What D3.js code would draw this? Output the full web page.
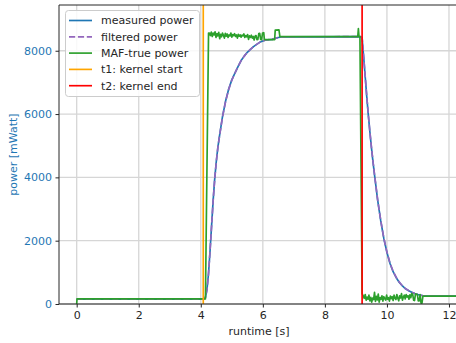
<!DOCTYPE html>
<html><head><meta charset="utf-8">
<script src="https://cdn.jsdelivr.net/npm/d3@7"></script>
<style>
html,body{margin:0;padding:0;background:#fff;}
svg{display:block;font-family:"DejaVu Sans",sans-serif;}
</style></head>
<body>
<svg id="c" width="456" height="343"></svg>
<script>
// ---- data ----
const measuredT = [0, 4.07, 4.10, 4.15, 4.20, 4.25, 4.30, 4.35, 4.40, 4.45, 4.50, 4.55, 4.60, 4.70, 4.80, 4.90, 5.00, 5.10, 5.20, 5.30, 5.40, 5.50, 5.60, 5.70, 5.80, 5.90, 6.00, 6.10, 6.30, 6.50, 6.60, 9.15, 9.20, 9.25, 9.30, 9.35, 9.40, 9.45, 9.50, 9.55, 9.60, 9.70, 9.80, 9.90, 10.00, 10.10, 10.20, 10.30, 10.40, 10.50, 10.60, 10.70, 10.80, 10.90, 11.00, 11.10, 11.20, 12.50];
const measuredP = [150, 150, 160, 210, 460, 970, 1700, 2500, 3290, 3970, 4500, 4940, 5290, 5920, 6410, 6790, 7080, 7290, 7500, 7690, 7830, 7950, 8045, 8130, 8200, 8265, 8310, 8340, 8360, 8420, 8440, 8445, 8400, 7810, 7180, 6550, 5970, 5440, 4950, 4500, 4080, 3290, 2630, 2070, 1630, 1280, 1020, 830, 680, 570, 480, 420, 370, 330, 295, 275, 253, 253];
const filteredT = [0, 4.07, 4.10, 4.15, 4.20, 4.25, 4.30, 4.35, 4.40, 4.45, 4.50, 4.55, 4.60, 4.70, 4.80, 4.90, 5.00, 5.10, 5.20, 5.30, 5.40, 5.50, 5.60, 5.70, 5.80, 5.90, 6.00, 6.10, 6.30, 6.50, 6.60, 9.15, 9.20, 9.25, 9.30, 9.35, 9.40, 9.45, 9.50, 9.55, 9.60, 9.70, 9.80, 9.90, 10.00, 10.10, 10.20, 10.30, 10.40, 10.50, 10.60, 10.70, 10.80, 10.90, 11.00, 11.10, 11.20, 12.50];
const filteredP = [150, 150, 158, 205, 450, 960, 1690, 2490, 3280, 3960, 4490, 4930, 5280, 5910, 6400, 6780, 7070, 7290, 7500, 7690, 7830, 7950, 8045, 8130, 8200, 8265, 8310, 8340, 8360, 8420, 8440, 8445, 8410, 7820, 7190, 6560, 5980, 5450, 4960, 4510, 4090, 3300, 2640, 2080, 1640, 1290, 1030, 840, 690, 575, 485, 425, 372, 332, 297, 276, 253, 253];
const mafT = [0, 0.01, 4.15, 4.25, 4.28, 4.31, 4.34, 4.37, 4.40, 4.43, 4.46, 4.49, 4.52, 4.55, 4.58, 4.61, 4.64, 4.67, 4.70, 4.73, 4.76, 4.79, 4.82, 4.85, 4.88, 4.91, 4.94, 4.97, 5.00, 5.03, 5.06, 5.09, 5.12, 5.15, 5.18, 5.21, 5.24, 5.27, 5.30, 5.33, 5.36, 5.39, 5.42, 5.45, 5.48, 5.51, 5.54, 5.57, 5.60, 5.63, 5.66, 5.69, 5.72, 5.75, 5.78, 5.81, 5.84, 5.87, 5.90, 5.93, 5.96, 5.99, 6.03, 6.05, 6.38, 6.40, 6.52, 6.55, 9.06, 9.08, 9.10, 9.13, 9.20, 9.24, 9.27, 9.30, 9.33, 9.36, 9.39, 9.42, 9.45, 9.48, 9.51, 9.54, 9.57, 9.60, 9.63, 9.66, 9.69, 9.72, 9.75, 9.78, 9.81, 9.84, 9.87, 9.90, 9.93, 9.96, 9.99, 10.02, 10.05, 10.08, 10.11, 10.14, 10.17, 10.20, 10.23, 10.26, 10.29, 10.32, 10.35, 10.38, 10.41, 10.44, 10.47, 10.50, 10.53, 10.56, 10.59, 10.62, 10.65, 10.68, 10.71, 10.74, 10.77, 10.80, 10.83, 10.86, 10.89, 10.92, 10.95, 10.98, 11.01, 11.04, 11.07, 11.10, 11.13, 11.16, 12.50];
const mafP = [0, 160, 160, 8560, 8560, 8480, 8590, 8450, 8560, 8500, 8600, 8420, 8540, 8470, 8580, 8380, 8520, 8440, 8560, 8490, 8400, 8550, 8460, 8530, 8420, 8500, 8470, 8560, 8430, 8510, 8480, 8540, 8450, 8500, 8400, 8520, 8460, 8500, 8430, 8490, 8470, 8530, 8420, 8480, 8440, 8510, 8360, 8470, 8420, 8490, 8400, 8450, 8340, 8460, 8480, 8350, 8360, 8540, 8550, 8360, 8350, 8560, 8570, 8350, 8350, 8650, 8660, 8445, 8445, 8700, 8445, 8445, 330, 250, 180, 300, 120, 220, 150, 280, 100, 210, 60, 190, 140, 370, 80, 240, 130, 310, 60, 200, 150, 260, 90, 230, 170, 120, 280, 150, 200, 90, 250, 170, 230, 110, 280, 190, 140, 300, 180, 100, 260, 190, 330, 120, 220, 280, 160, 300, 220, 260, 150, 290, 200, 330, 310, 120, 110, 320, 310, 300, 100, 100, 300, 30, 30, 250, 250];
const kernelStart = 4.08;
const kernelEnd = 9.20;
const xTicks = [0, 2, 4, 6, 8, 10, 12];
const yTicks = [0, 2000, 4000, 6000, 8000];
const legendLabels = ["measured power", "filtered power", "MAF-true power", "t1: kernel start", "t2: kernel end"];

// ---- layout ----
const L = 59, T = 5, B = 304, R = 480;
const LW = 1.67;
const svg = d3.select("#c");
const x = d3.scaleLinear().domain([-0.57, 13.0]).range([L, R]);
const y = d3.scaleLinear().domain([0, 9445]).range([B, T]);

svg.append("defs").append("clipPath").attr("id", "clip")
  .append("rect").attr("x", L).attr("y", T).attr("width", R - L).attr("height", B - T);

// grid
const grid = svg.append("g");
xTicks.forEach(t => grid.append("line").attr("x1", x(t)).attr("x2", x(t)).attr("y1", T).attr("y2", B)
  .attr("stroke", "#d6d6d6").attr("stroke-width", 1.3));
yTicks.forEach(t => grid.append("line").attr("x1", L).attr("x2", R).attr("y1", y(t)).attr("y2", y(t))
  .attr("stroke", "#d6d6d6").attr("stroke-width", 1.3));

const plot = svg.append("g").attr("clip-path", "url(#clip)");
const line = d3.line().x(d => x(d[0])).y(d => y(d[1]));
const zip = (a, b) => a.map((v, i) => [v, b[i]]);

plot.append("path").attr("d", line(zip(measuredT, measuredP))).attr("fill", "none")
  .attr("stroke", "#1f77b4").attr("stroke-width", LW).attr("stroke-linejoin", "round");
plot.append("path").attr("d", line(zip(filteredT, filteredP))).attr("fill", "none")
  .attr("stroke", "#9467bd").attr("stroke-width", LW).attr("stroke-dasharray", "6.2,2.7").attr("stroke-linejoin", "round");
plot.append("path").attr("d", line(zip(mafT, mafP))).attr("fill", "none")
  .attr("stroke", "#2ca02c").attr("stroke-width", LW).attr("stroke-linejoin", "round");
plot.append("line").attr("x1", x(kernelStart)).attr("x2", x(kernelStart)).attr("y1", T).attr("y2", B)
  .attr("stroke", "#ffa500").attr("stroke-width", LW);
plot.append("line").attr("x1", x(kernelEnd)).attr("x2", x(kernelEnd)).attr("y1", T).attr("y2", B)
  .attr("stroke", "#ff0000").attr("stroke-width", LW);

// axes
const xAxis = svg.append("g").attr("transform", `translate(0,${B})`)
  .call(d3.axisBottom(x).tickValues(xTicks).tickSize(3.5).tickPadding(3.5).tickFormat(d3.format("d")));
xAxis.select(".domain").remove();
xAxis.selectAll("text").attr("fill", "#262626").style("font-size", "11px").style("font-family", "DejaVu Sans");
xAxis.selectAll("line").attr("stroke", "#262626");

const yAxis = svg.append("g").attr("transform", `translate(${L},0)`)
  .call(d3.axisLeft(y).tickValues(yTicks).tickSize(3.5).tickPadding(3.5).tickFormat(d3.format("d")));
yAxis.select(".domain").remove();
yAxis.selectAll("text").attr("fill", "#1f77b4").style("font-size", "11px").style("font-family", "DejaVu Sans");
yAxis.selectAll("line").attr("stroke", "#262626");

// spines
svg.append("line").attr("x1", L).attr("x2", L).attr("y1", T).attr("y2", B).attr("stroke", "#262626").attr("stroke-width", 1);
svg.append("line").attr("x1", L).attr("x2", R).attr("y1", B).attr("y2", B).attr("stroke", "#262626").attr("stroke-width", 1);
svg.append("line").attr("x1", L).attr("x2", R).attr("y1", T).attr("y2", T).attr("stroke", "#262626").attr("stroke-width", 1);

// labels
svg.append("text").attr("x", 259).attr("y", 335).attr("text-anchor", "middle")
  .attr("fill", "#262626").style("font-size", "11px").text("runtime [s]");
svg.append("text").attr("transform", `translate(17,${(T + B) / 2}) rotate(-90)`).attr("text-anchor", "middle")
  .attr("fill", "#1f77b4").style("font-size", "11px").text("power [mWatt]");

// legend
const lg = svg.append("g");
lg.append("rect").attr("x", 65.5).attr("y", 10.5).attr("width", 134).attr("height", 86).attr("rx", 3)
  .attr("fill", "#fff").attr("fill-opacity", 0.85).attr("stroke", "#cccccc");
const lcol = ["#1f77b4", "#9467bd", "#2ca02c", "#ffa500", "#ff0000"];
legendLabels.forEach((lab, i) => {
  const yy = 20.5 + i * 16.3;
  lg.append("line").attr("x1", 69).attr("x2", 92).attr("y1", yy).attr("y2", yy)
    .attr("stroke", lcol[i]).attr("stroke-width", LW).attr("stroke-dasharray", i === 1 ? "6.2,2.7" : null);
  lg.append("text").attr("x", 101).attr("y", yy).attr("dy", "0.35em").attr("fill", "#262626")
    .style("font-size", "11px").text(lab);
});
</script>
</body></html>
